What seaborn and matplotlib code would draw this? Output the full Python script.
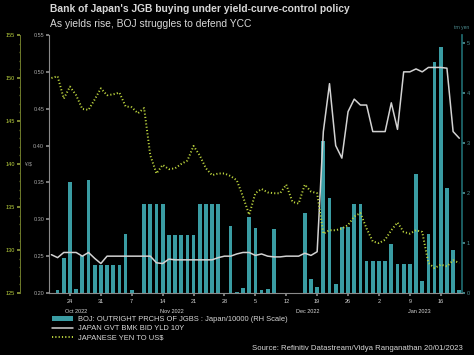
import numpy as np
import pandas as pd
import matplotlib
matplotlib.use("Agg")
import matplotlib.pyplot as plt
import matplotlib.transforms as mtransforms
from matplotlib.patches import Patch
from matplotlib.lines import Line2D
import seaborn as sns

# weekday axis, Oct 19 2022 .. Jan 19 2023
dates = pd.bdate_range("2022-10-19", "2023-01-19")

# BOJ outright JGB purchases, trn yen (RH scale)
boj_buying = [0.0, 0.06, 0.71, 2.23, 0.08, 0.74, 2.27, 0.56, 0.56, 0.56,
              0.56, 0.56, 1.19, 0.06, 0.0, 1.79, 1.79, 1.79, 1.79, 1.17,
              1.17, 1.17, 1.17, 1.17, 1.79, 1.79, 1.79, 1.79, 0.0, 1.34,
              0.03, 0.11, 1.53, 1.31, 0.06, 0.09, 1.28, 0.01, 0.01, 0.01,
              0.01, 1.61, 0.29, 0.13, 3.04, 1.91, 0.19, 1.33, 1.33, 1.79,
              1.79, 0.64, 0.64, 0.64, 0.64, 0.99, 0.59, 0.59, 0.59, 2.39,
              0.25, 1.19, 4.62, 4.93, 2.11, 0.86, 0.06]

# Japan 10Y benchmark yield, %
jgb_10y = [0.252, 0.248, 0.255, 0.255, 0.255, 0.250, 0.255, 0.247, 0.240, 0.250,
           0.250, 0.250, 0.250, 0.250, 0.250, 0.250, 0.250, 0.241, 0.240, 0.246,
           0.245, 0.245, 0.245, 0.245, 0.245, 0.245, 0.245, 0.248, 0.250, 0.250,
           0.253, 0.255, 0.255, 0.251, 0.253, 0.250, 0.249, 0.249, 0.250, 0.250,
           0.250, 0.254, 0.251, 0.256, 0.419, 0.484, 0.400, 0.383, 0.446, 0.463,
           0.455, 0.455, 0.419, 0.419, 0.419, 0.458, 0.422, 0.500, 0.500, 0.504,
           0.500, 0.506, 0.506, 0.506, 0.505, 0.419, 0.410]

# yen per US$
usd_jpy = [150.0, 150.2, 147.6, 149.0, 148.0, 146.4, 146.3, 147.5, 148.8, 148.0,
           148.1, 148.3, 146.7, 146.6, 145.9, 146.5, 141.0, 138.9, 139.9, 139.4,
           139.5, 140.0, 140.4, 142.1, 141.0, 139.5, 138.7, 138.9, 138.9, 138.6,
           138.1, 136.2, 134.1, 136.6, 137.1, 136.7, 136.6, 136.6, 137.6, 135.6,
           135.4, 137.6, 136.8, 136.6, 131.9, 132.3, 132.3, 132.5, 132.9, 133.9,
           134.3, 132.5, 131.0, 130.8, 131.2, 132.3, 133.2, 132.1, 131.9, 132.3,
           132.1, 128.5, 127.9, 128.3, 128.1, 128.8, 128.5]

yld_ticks = [0.20, 0.25, 0.30, 0.35, 0.40, 0.45, 0.50, 0.55]
yen_ticks = [125, 130, 135, 140, 145, 150, 155]
boj_ticks = [0, 1, 2, 3, 4, 5]

labels = ["BOJ: OUTRIGHT PRCHS OF JGBS : Japan/10000 (RH Scale)",
          "JAPAN GVT BMK BID YLD 10Y",
          "JAPANESE YEN TO US$"]

TEAL = "#3a9ca3"
WHITE = "#d2d2d2"
YG = "#bcd43e"
GREY = "#a8a8a8"
TXT = "#d8d8d8"

sns.set_theme(style="ticks", rc={"axes.facecolor": "black",
                                  "figure.facecolor": "black",
                                  "savefig.facecolor": "black"})
plt.rcParams["font.family"] = ["Liberation Sans", "DejaVu Sans"]

df = pd.DataFrame({"pos": np.arange(len(dates)), "boj": boj_buying,
                   "yld": jgb_10y, "yen": usd_jpy})

fig = plt.figure(figsize=(4.74, 3.55), dpi=100)
axb = fig.add_axes([0.1034, 0.1746, 0.8713, 0.7268])
ax_yld = axb.twinx()
ax_yen = axb.twinx()

sns.barplot(data=df, x="pos", y="boj", native_scale=True, width=0.6,
            color=TEAL, saturation=1, errorbar=None, linewidth=0, ax=axb)
sns.lineplot(data=df, x="pos", y="yld", color=WHITE, lw=1.1, ax=ax_yld)
sns.lineplot(data=df, x="pos", y="yen", color=YG, lw=1.4,
             linestyle=(0, (0.6, 1.1)), ax=ax_yen)

axb.set_xlim(-0.39, 66.44)
axb.set_ylim(0, 5.16)
ax_yld.set_ylim(0.2, 0.55)
ax_yen.set_ylim(125, 155)

# right-hand bar axis
axb.yaxis.tick_right()
axb.set_yticks(boj_ticks)
axb.tick_params(axis="y", colors="#4e8f93", labelsize=4, length=2, pad=1.5)
for ax in (axb, ax_yld, ax_yen):
    ax.set_xlabel("")
    ax.set_ylabel("")
    for s in ax.spines.values():
        s.set_visible(False)
axb.spines["right"].set_visible(True)
axb.spines["right"].set_color("#1f6a6e")
axb.spines["bottom"].set_visible(True)
axb.spines["bottom"].set_color("#8a8a8a")
axb.spines["bottom"].set_linewidth(0.8)

# x ticks on Mondays
mondays = np.where(dates.weekday == 0)[0]
axb.set_xticks(mondays)
axb.set_xticklabels([str(dates[i].day) for i in mondays])
axb.tick_params(axis="x", colors="#8a8a8a", labelcolor=TXT, labelsize=4,
                length=2.5, pad=1.5)
trans = mtransforms.blended_transform_factory(axb.transData, axb.transAxes)
for m in pd.unique(dates.to_period("M")):
    idx = np.where(dates.to_period("M") == m)[0]
    center = (max(idx.min(), 0) + idx.max()) / 2
    axb.text(center, -0.07, m.strftime("%b %Y"), transform=trans,
             ha="center", va="center", fontsize=4, color=TXT)

# yield axis (inner left)
ax_yld.yaxis.tick_left()
ax_yld.set_yticks(yld_ticks)
ax_yld.set_yticklabels([f"{v:.2f}" for v in yld_ticks])
ax_yld.tick_params(axis="y", colors="#8a8a8a", labelcolor=GREY,
                   labelsize=4, length=2, pad=1.5)
ax_yld.spines["left"].set_visible(True)
ax_yld.spines["left"].set_color("#8a8a8a")
ax_yld.spines["left"].set_linewidth(0.8)

# yen axis (outer left)
ax_yen.yaxis.tick_left()
ax_yen.set_yticks(yen_ticks)
ax_yen.set_yticks(np.arange(125, 156, 1), minor=True)
ax_yen.tick_params(axis="y", which="major", colors="#8e9a3a",
                   labelcolor=YG, labelsize=4, length=2, pad=1.5)
ax_yen.tick_params(axis="y", which="minor", colors="#6e7a2a", length=1)
ax_yen.spines["left"].set_visible(True)
ax_yen.spines["left"].set_position(("axes", -0.0702))
ax_yen.spines["left"].set_color("#6e7a2a")
ax_yen.spines["left"].set_linewidth(0.7)

ax_yen.text(-0.057, 0.5, "¥/$", transform=ax_yen.transAxes, fontsize=3.5,
            color=GREY, ha="left", va="center")
axb.text(1.0, 1.02, "trn yen", transform=axb.transAxes, fontsize=3.5,
         color="#4e8f93", ha="center", va="bottom")

fig.text(50 / 474, 1 - 9 / 355,
         "Bank of Japan's JGB buying under yield-curve-control policy",
         fontsize=7.4, fontweight="bold", color=TXT, ha="left", va="center")
fig.text(50 / 474, 1 - 24 / 355, "As yields rise, BOJ struggles to defend YCC",
         fontsize=7.4, color=TXT, ha="left", va="center")

handles = [Patch(facecolor=TEAL, edgecolor="none"),
           Line2D([], [], color=WHITE, lw=1.1),
           Line2D([], [], color=YG, lw=1.4, linestyle=(0, (0.6, 1.1)))]
fig.legend(handles, labels, loc="upper left",
           bbox_to_anchor=(52 / 474, 1 - 316 / 355), frameon=False,
           fontsize=5.4, labelcolor=TXT, handlelength=2.8, handleheight=0.7,
           labelspacing=0.25, handletextpad=0.6, borderaxespad=0, borderpad=0)

fig.text(463 / 474, 1 - 349 / 355,
         "Source: Refinitiv Datastream/Vidya Ranganathan 20/01/2023",
         fontsize=5.6, color=TXT, ha="right", va="center")

fig.savefig("out.png", dpi=100, facecolor="black")
